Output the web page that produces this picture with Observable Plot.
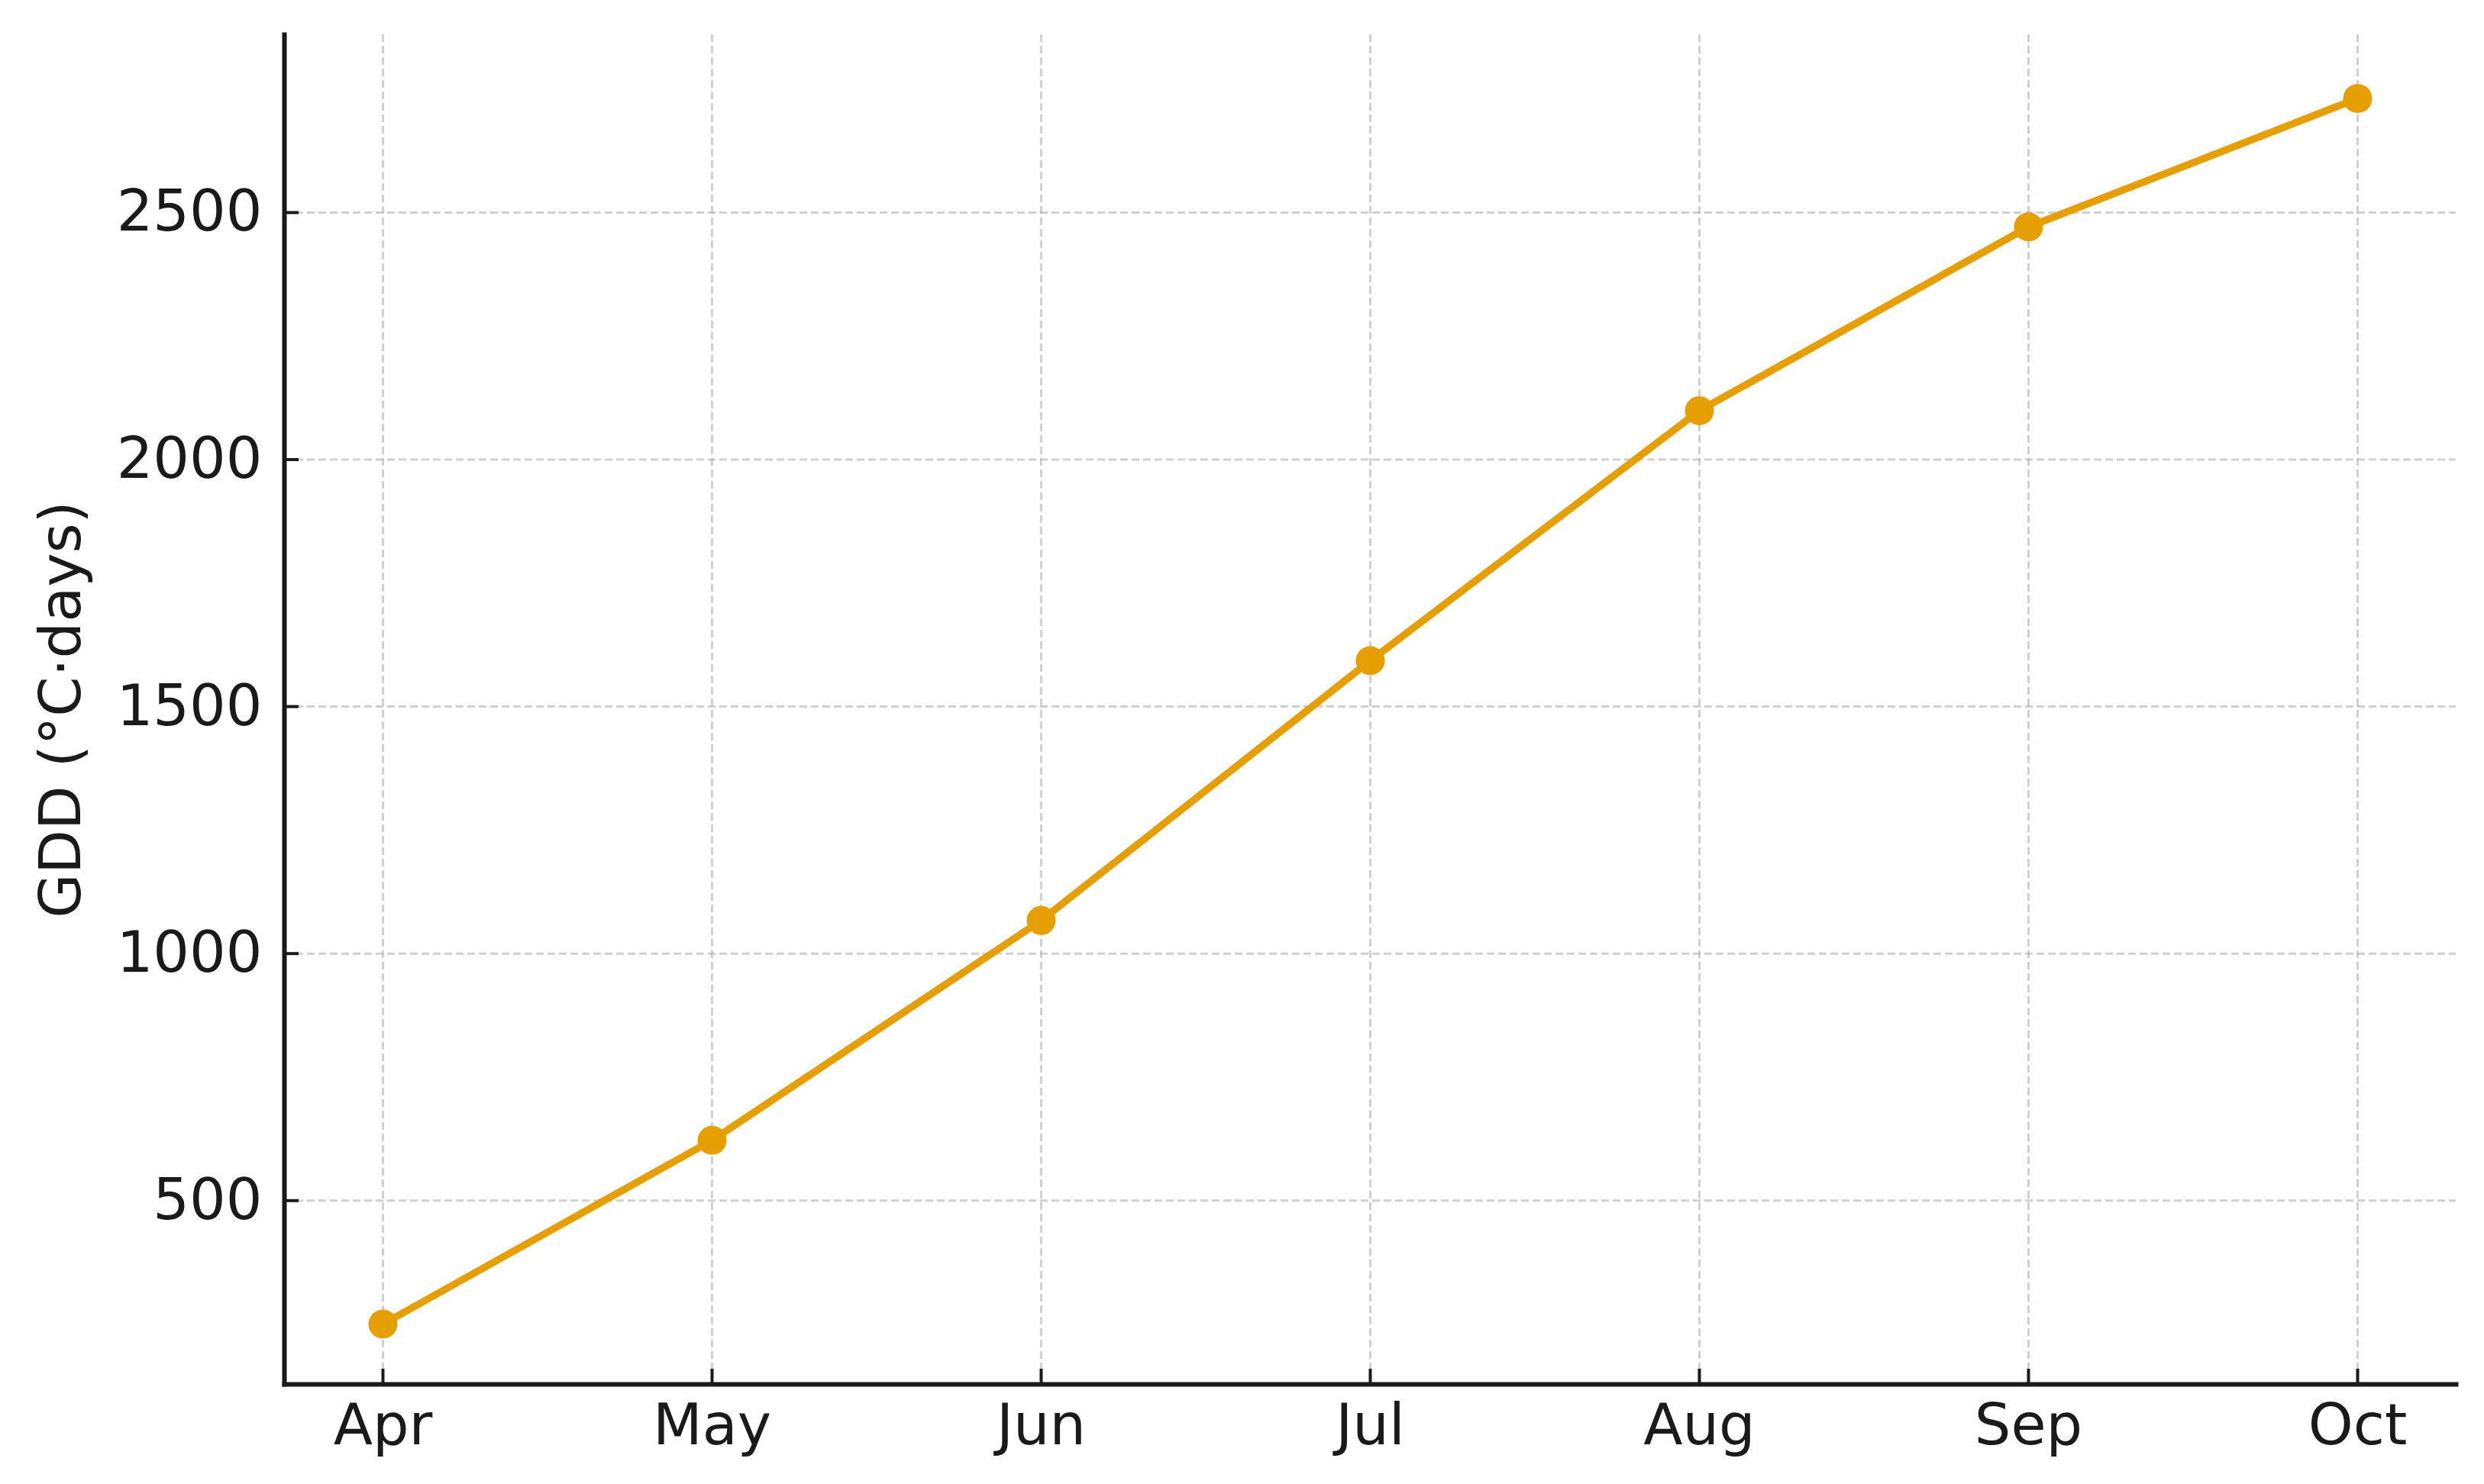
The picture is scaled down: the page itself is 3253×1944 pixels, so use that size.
<!DOCTYPE html>
<html><head><meta charset="utf-8">
<script src="https://cdn.jsdelivr.net/npm/d3@7"></script>
<script src="https://cdn.jsdelivr.net/npm/@observablehq/plot@0.6"></script>
<style>html,body{margin:0;padding:0;background:#fff}</style>
</head><body><div id="chart"></div>
<script>
const months = ["Apr", "May", "Jun", "Jul", "Aug", "Sep", "Oct"];
const gdd = [250, 622, 1067, 1593, 2099, 2471, 2731];
const yTicks = [500, 1000, 1500, 2000, 2500];
const yLabel = "GDD (°C·days)";

const data = months.map((m, i) => ({month: m, gdd: gdd[i]}));
const gridStyle = {stroke: "#b0b0b0", strokeOpacity: 0.6, strokeWidth: 3, strokeDasharray: "10,5"};

const chart = Plot.plot({
  width: 3253, height: 1944,
  marginLeft: 372, marginRight: 37, marginTop: 45, marginBottom: 131,
  style: {fontFamily: "DejaVu Sans", fontSize: "75px", color: "#1a1a1a", background: "#fff"},
  x: {type: "point", domain: months, padding: 0.297},
  y: {domain: [128, 2860]},
  marks: [
    Plot.gridX(months, gridStyle),
    Plot.gridY(yTicks, gridStyle),
    Plot.line(data, {x: "month", y: "gdd", stroke: "#E69F00", strokeWidth: 9.5}),
    Plot.dot(data, {x: "month", y: "gdd", r: 19, fill: "#E69F00"}),
    Plot.frame({anchor: "left", stroke: "#1a1a1a", strokeWidth: 6, strokeLinecap: "square"}),
    Plot.frame({anchor: "bottom", stroke: "#1a1a1a", strokeWidth: 6, strokeLinecap: "square"}),
    Plot.axisX(months, {tickSize: -20, tickPadding: 45, strokeWidth: 4, label: null}),
    Plot.axisY(yTicks, {tickSize: -19, tickPadding: 48, strokeWidth: 4, tickFormat: d => String(d), label: yLabel, labelAnchor: "center", labelArrow: "none", labelOffset: 321})
  ]
});
document.getElementById("chart").appendChild(chart);
</script>
</body></html>
